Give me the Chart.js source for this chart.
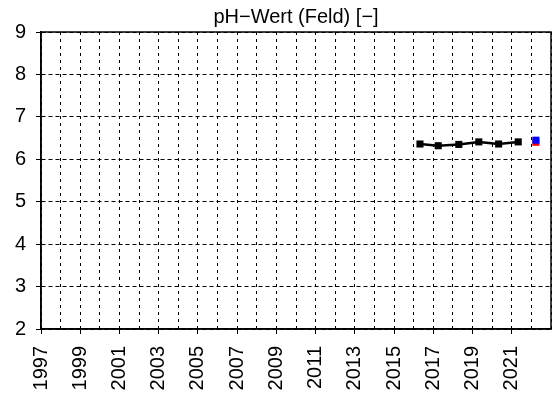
<!DOCTYPE html>
<html>
<head>
<meta charset="utf-8">
<script src="https://cdn.jsdelivr.net/npm/chart.js@4"></script>
<style>
  html, body { margin: 0; padding: 0; background: #fff; }
  #wrap { width: 552px; height: 399px; }
</style>
</head>
<body>
<div id="wrap"><canvas id="myChart"></canvas></div>
<script>
'use strict';

// measured years (decimal) and pH values
var messJahre = [2016.32, 2017.25, 2018.3, 2019.32, 2020.33, 2021.33];
var phWerte = [6.36, 6.32, 6.35, 6.41, 6.36, 6.41];

// single markers at the right end (red one sits under the blue one)
var markerJahr = [2022.23];
var blauWert = [6.45];
var rotWert = [6.40];

// labelled years on the x axis
var jahrLabels = [1997, 1999, 2001, 2003, 2005, 2007, 2009, 2011, 2013, 2015, 2017, 2019, 2021];

var titel = 'pH\u2212Wert (Feld) [\u2212]';

function punkte(xs, ys) {
  return xs.map(function(x, i) { return { x: x, y: ys[i] }; });
}

var rahmen = {
  id: 'rahmen',
  afterDraw: function(chart) {
    var a = chart.chartArea;
    var ctx = chart.ctx;
    ctx.save();
    ctx.strokeStyle = '#000';
    ctx.lineWidth = 1.5;
    ctx.strokeRect(a.left, a.top, a.right - a.left, a.bottom - a.top);
    ctx.restore();
  }
};

Chart.defaults.font.family = '"Liberation Sans", Arial, sans-serif';
Chart.defaults.color = '#000';

var ctx = document.getElementById('myChart');

// datasets with lower index are drawn on top
var myChart = new Chart(ctx, {
  type: 'line',
  data: {
    datasets: [{
      label: 'pH',
      data: punkte(messJahre, phWerte),
      borderColor: '#000',
      backgroundColor: '#000',
      borderWidth: 2.5,
      pointStyle: 'rect',
      pointRadius: 5,
      pointBorderWidth: 0,
      fill: false,
      tension: 0
    }, {
      label: 'blau',
      data: punkte(markerJahr, blauWert),
      showLine: false,
      pointStyle: 'rect',
      pointRadius: 5,
      backgroundColor: '#0000ff',
      borderColor: '#0000ff',
      pointBorderWidth: 0
    }, {
      label: 'rot',
      data: punkte(markerJahr, rotWert),
      showLine: false,
      pointStyle: 'rect',
      pointRadius: 5,
      backgroundColor: '#ff0000',
      borderColor: '#ff0000',
      pointBorderWidth: 0
    }]
  },
  options: {
    responsive: true,
    maintainAspectRatio: false,
    animation: false,
    layout: { autoPadding: false, padding: { right: 1 } },
    plugins: {
      legend: { display: false },
      tooltip: { enabled: false },
      title: {
        display: true,
        text: titel,
        fullSize: false,
        color: '#000',
        font: { size: 20, weight: 'normal' },
        padding: { top: 5, bottom: 3 }
      }
    },
    scales: {
      x: {
        type: 'linear',
        min: 1997,
        max: 2023,
        afterFit: function(scale) {
          scale.height = 70;
          scale.paddingLeft = 0;
          scale.paddingRight = 0;
        },
        ticks: {
          stepSize: 1,
          autoSkip: false,
          maxRotation: 90,
          minRotation: 90,
          padding: 12,
          font: { size: 20 },
          callback: function(v) { return jahrLabels.indexOf(v) >= 0 ? String(v) : ''; }
        },
        grid: {
          color: '#000',
          lineWidth: 1,
          tickLength: 5,
          tickColor: function(c) {
            return c.tick && jahrLabels.indexOf(c.tick.value) >= 0 ? '#000' : 'rgba(0,0,0,0)';
          }
        },
        border: { display: true, color: '#000', width: 1.5, dash: [3, 4] }
      },
      y: {
        min: 2,
        max: 9,
        afterFit: function(scale) { scale.width = 41; },
        ticks: {
          stepSize: 1,
          padding: 10,
          font: { size: 20 }
        },
        grid: {
          color: '#000',
          lineWidth: 1,
          tickLength: 5,
          tickColor: '#000'
        },
        border: { display: true, color: '#000', width: 1.5, dash: [4, 3] }
      }
    }
  },
  plugins: [rahmen]
});
</script>
</body>
</html>
